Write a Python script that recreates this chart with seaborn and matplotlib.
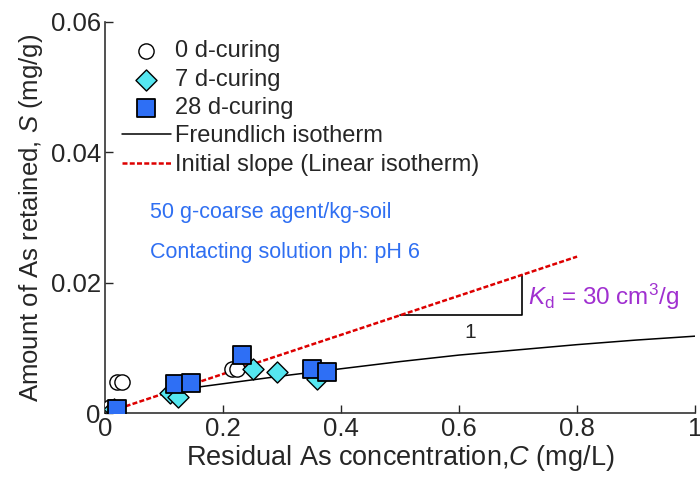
import matplotlib
matplotlib.use("Agg")
import matplotlib.pyplot as plt
import seaborn as sns

sns.set_style("ticks")
plt.rcParams['font.family'] = ['Liberation Sans', 'DejaVu Sans']
plt.rcParams['mathtext.fontset'] = 'custom'
plt.rcParams['mathtext.rm'] = 'Liberation Sans'
plt.rcParams['mathtext.it'] = 'Liberation Sans:italic'

# data
c_0d = [0.003, 0.008, 0.020, 0.029, 0.216, 0.223]
s_0d = [0.0007, 0.0010, 0.0048, 0.0048, 0.0068, 0.0068]

c_7d = [0.015, 0.110, 0.124, 0.251, 0.291, 0.359]
s_7d = [0.0006, 0.0031, 0.0025, 0.0067, 0.0063, 0.0053]

c_28d = [0.020, 0.119, 0.145, 0.232, 0.350, 0.376]
s_28d = [0.0006, 0.0045, 0.0046, 0.0089, 0.0068, 0.0063]

c_freund = [0.15, 0.20, 0.30, 0.40, 0.50, 0.60, 0.70, 0.80, 0.90, 1.00]
s_freund = [0.0039, 0.0045, 0.0057, 0.0068, 0.0079, 0.0089, 0.0097, 0.0105, 0.0112, 0.0118]

c_linear = [0.0, 0.8]
s_linear = [0.0, 0.024]

fig = plt.figure(figsize=(7, 4.86), dpi=100)
ax = fig.add_axes([0.15, 0.15, 0.843, 0.805])

sns.scatterplot(x=c_0d, y=s_0d, ax=ax, marker='o', s=120, color='white',
                edgecolor='black', linewidth=1.0, label='0 d-curing', zorder=3)
sns.scatterplot(x=c_7d, y=s_7d, ax=ax, marker='D', s=115, color='#55e6f0',
                edgecolor='black', linewidth=1.0, label='7 d-curing', zorder=4)
sns.scatterplot(x=c_28d, y=s_28d, ax=ax, marker='s', s=175, color='#2e6ff5',
                edgecolor='black', linewidth=1.3, label='28 d-curing', zorder=5)
sns.lineplot(x=c_freund, y=s_freund, ax=ax, color='black', linewidth=1.1,
             label='Freundlich isotherm', zorder=2)
sns.lineplot(x=c_linear, y=s_linear, ax=ax, color='#dd0000', linewidth=1.8,
             linestyle=(0, (2, 0.9)), label='Initial slope (Linear isotherm)', zorder=2)

# slope triangle
ax.plot([0.5, 0.706, 0.706], [0.015, 0.015, 0.0212], color='black', linewidth=1.2, zorder=1)
ax.text(0.619, 0.0123, '1', fontsize=15, ha='center', va='center')
ax.text(0.717, 0.0178, r'$\it{K}$$_{\rm d}$ = 30 cm$^3$/g', fontsize=17.5,
        color='#a030d0', ha='left', va='center')

ax.text(0.076, 0.0308, '50 g-coarse agent/kg-soil', fontsize=15.5, color='#2f6ff2',
        ha='left', va='center')
ax.text(0.076, 0.0247, 'Contacting solution ph: pH 6', fontsize=15.5, color='#2f6ff2',
        ha='left', va='center')

ax.set_xlim(0, 1)
ax.set_ylim(0, 0.06)
ax.set_xticks([0, 0.2, 0.4, 0.6, 0.8, 1.0])
ax.set_xticklabels(['0', '0.2', '0.4', '0.6', '0.8', '1'])
ax.set_yticks([0, 0.02, 0.04, 0.06])
ax.set_yticklabels(['0', '0.02', '0.04', '0.06'])
ax.tick_params(direction='in', labelsize=18.5, length=6, width=1, pad=3)
ax.set_xlabel(r'Residual As concentration,$\it{C}$ (mg/L)', fontsize=19.5, labelpad=1)
ax.set_ylabel(r'Amount of As retained, $\it{S}$ (mg/g)', fontsize=18.5, labelpad=4)
for side in ['top', 'right']:
    ax.spines[side].set_visible(False)
for side in ['left', 'bottom']:
    ax.spines[side].set_linewidth(1.2)
    ax.spines[side].set_color('#333333')

ax.legend(loc='upper left', bbox_to_anchor=(0.0, 0.995), frameon=False, fontsize=17,
          handlelength=2.1, handletextpad=0.15, labelspacing=0.27, borderaxespad=0.3)

fig.savefig('out.png', dpi=100)
